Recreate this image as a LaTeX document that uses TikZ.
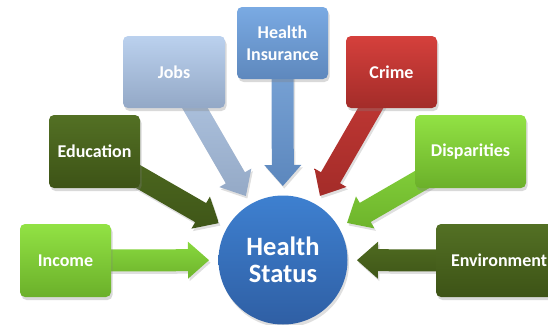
\documentclass[tikz,border=0pt]{standalone}
\usepackage{fontspec}
\setmainfont{Carlito}
\usetikzlibrary{calc,shadows}
\pgfdeclarelayer{bg}
\pgfsetlayers{bg,main}
\definecolor{insT}{HTML}{7AAAE3}\definecolor{insB}{HTML}{5E88BD}
\definecolor{insAT}{HTML}{7EA8DA}\definecolor{insAB}{HTML}{5C87BD}
\definecolor{jobT}{HTML}{BBD1EE}\definecolor{jobB}{HTML}{93A8C6}
\definecolor{jobAT}{HTML}{B3C8E4}\definecolor{jobAB}{HTML}{94A9C6}
\definecolor{crmT}{HTML}{D5403C}\definecolor{crmB}{HTML}{A32C29}
\definecolor{crmAT}{HTML}{C63A36}\definecolor{crmAB}{HTML}{A42C29}
\definecolor{oliT}{HTML}{537024}\definecolor{oliB}{HTML}{3D5316}
\definecolor{oliAT}{HTML}{4F6B20}\definecolor{oliAB}{HTML}{3F5618}
\definecolor{grnT}{HTML}{92E244}\definecolor{grnB}{HTML}{6BB02A}
\definecolor{grnAT}{HTML}{88D83E}\definecolor{grnAB}{HTML}{6EB42C}
\definecolor{hsT}{HTML}{3E80D0}\definecolor{hsB}{HTML}{2F5FA4}
\tikzset{
  box/.style={rectangle, rounded corners=5pt, minimum height=73pt, minimum width=91pt,
    text=white, font=\fontsize{18}{21.5}\selectfont\bfseries, align=center,
    drop shadow={opacity=0.3, shadow xshift=1.5pt, shadow yshift=-3pt}},
  hub/.style={circle, minimum size=129pt, inner sep=0pt, text=white,
    font=\fontsize{26.5}{28}\selectfont\bfseries, align=center,
    top color=hsT, bottom color=hsB,
    drop shadow={opacity=0.25, shadow xshift=1.5pt, shadow yshift=-3pt}}
}
\newcommand\radarrow[3]{%
  \begin{pgfonlayer}{bg}
  \coordinate (T) at ($(hs.center)!74pt!(#1.center)$);
  \coordinate (HB) at ($(hs.center)!95pt!(#1.center)$);
  \shade[top color=#2, bottom color=#3,
    drop shadow={opacity=0.25, shadow xshift=1.5pt, shadow yshift=-2.5pt}]
    ($(#1.center)!11pt!90:(T)$) -- ($(HB)!11pt!-90:(#1.center)$)
    -- ($(HB)!18.5pt!-90:(#1.center)$) -- (T)
    -- ($(HB)!18.5pt!90:(#1.center)$) -- ($(HB)!11pt!90:(#1.center)$)
    -- ($(#1.center)!11pt!-90:(T)$) -- cycle;
  \end{pgfonlayer}}
\begin{document}
\begin{tikzpicture}[x=1pt,y=-1pt]
\useasboundingbox (0,0) rectangle (548,324);
\begin{scope}
\clip (0,0) rectangle (548,324);
\node[hub] (hs) at (283,260) {Health\\[-1pt]Status};
\node[box, minimum height=72pt, top color=insT, bottom color=insB] (ins) at (282.5,43) {Health\\Insurance};
\node[box, minimum width=102pt, minimum height=72pt, top color=jobT, bottom color=jobB] (jobs) at (174,72) {Jobs};
\node[box, minimum height=72pt, top color=crmT, bottom color=crmB] (crime) at (391.5,72) {Crime};
\node[box, top color=oliT, bottom color=oliB] (edu) at (94.5,151.5) {Education};
\node[box, minimum width=111pt, top color=grnT, bottom color=grnB] (disp) at (470.5,151.5) {Disparities};
\node[box, top color=grnT, bottom color=grnB] (inc) at (65.5,260.5) {Income};
\node[box, minimum width=124pt, text width=94pt, inner xsep=0pt, align=left, top color=oliT, bottom color=oliB] (env) at (498,260.5) {Environment};
\end{scope}
\radarrow{ins}{insAT}{insAB}
\radarrow{jobs}{jobAT}{jobAB}
\radarrow{crime}{crmAT}{crmAB}
\radarrow{edu}{oliAT}{oliAB}
\radarrow{disp}{grnAT}{grnAB}
\radarrow{inc}{grnAT}{grnAB}
\radarrow{env}{oliAT}{oliAB}
\end{tikzpicture}
\end{document}
